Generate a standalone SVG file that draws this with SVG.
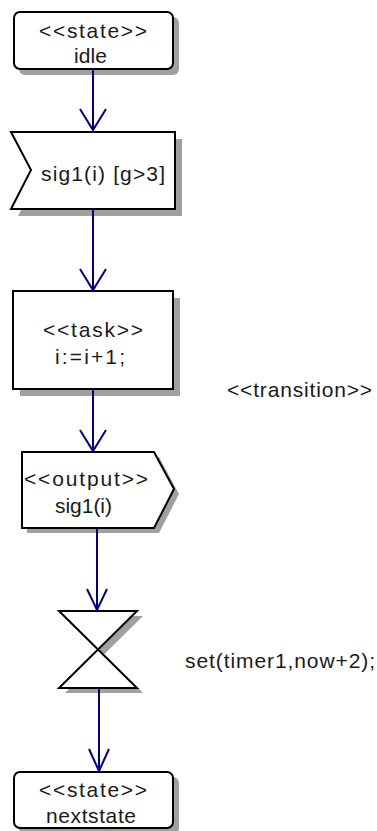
<svg xmlns="http://www.w3.org/2000/svg" width="377" height="831" viewBox="0 0 377 831">
<style>
.sh{fill:#a0a0a0;stroke:none}
.nd{fill:#fff;stroke:#000;stroke-width:2;stroke-linejoin:miter}
.t{font-family:"Liberation Sans",Arial,sans-serif;font-size:21px;fill:#1a1a1a}
.c{fill:none;stroke:#000080;stroke-width:2}
</style>
<rect x="0" y="0" width="377" height="831" fill="#fff"/>
<g id="idle">
<rect class="sh" x="19" y="17" width="160" height="58" rx="6"/>
<rect class="nd" x="14" y="12" width="159" height="57" rx="6"/>
<text class="t" x="39" y="38" textLength="108" lengthAdjust="spacing">&lt;&lt;state&gt;&gt;</text>
<text class="t" x="74" y="63" textLength="33" lengthAdjust="spacing">idle</text>
</g>
<g id="sig1">
<polygon class="sh" points="18,139 182,139 182,216 18,216 38,177"/>
<polygon class="nd" points="11,132 175,132 175,209 11,209 31,170"/>
<text class="t" x="41" y="181" textLength="124" lengthAdjust="spacing">sig1(i) [g&gt;3]</text>
</g>
<g id="task">
<rect class="sh" x="20" y="298" width="160" height="98"/>
<rect class="nd" x="13" y="291" width="160" height="98"/>
<text class="t" x="43" y="337" textLength="100" lengthAdjust="spacing">&lt;&lt;task&gt;&gt;</text>
<text class="t" x="55" y="364" textLength="70" lengthAdjust="spacing">i:=i+1;</text>
</g>
<g id="transition">
<text class="t" x="227" y="397" textLength="145" lengthAdjust="spacing">&lt;&lt;transition&gt;&gt;</text>
</g>
<g id="output">
<polygon class="sh" points="27,457 159,457 179,494 159,533 27,533"/>
<polygon class="nd" points="22,452 154,452 174,489 154,528 22,528"/>
<text class="t" x="24" y="486" textLength="124" lengthAdjust="spacing">&lt;&lt;output&gt;&gt;</text>
<text class="t" x="55" y="513" textLength="57" lengthAdjust="spacing">sig1(i)</text>
</g>
<g id="timer">
<polygon class="sh" points="65,616 143,616 65,693 143,693"/>
<polygon class="nd" points="59,611 137,611 59,688 137,688"/>
<text class="t" x="185" y="668" textLength="190" lengthAdjust="spacing">set(timer1,now+2);</text>
</g>
<g id="nextstate">
<rect class="sh" x="19" y="777" width="160" height="57" rx="6"/>
<rect class="nd" x="14" y="772" width="159" height="56" rx="6"/>
<text class="t" x="39" y="797" textLength="108" lengthAdjust="spacing">&lt;&lt;state&gt;&gt;</text>
<text class="t" x="46" y="823" textLength="90" lengthAdjust="spacing">nextstate</text>
</g>
<g id="connectors">
<path class="c" d="M93,70 V130 M80,109 L93,130 L106,109"/>
<path class="c" d="M93,210 V290 M80,269 L93,290 L106,269"/>
<path class="c" d="M93,390 V451 M80,430 L93,451 L106,430"/>
<path class="c" d="M97,529 V610 M87,589 L97,610 L107,589"/>
<path class="c" d="M99,689 V771 M89,749 L99,771 L109,749"/>
</g>
</svg>
